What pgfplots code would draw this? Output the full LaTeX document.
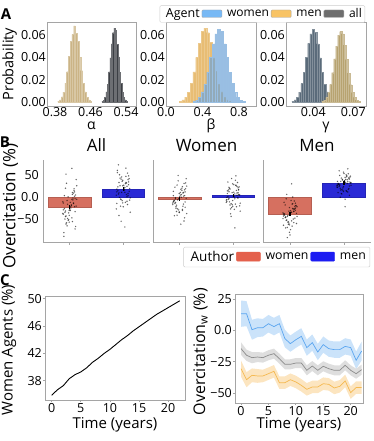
\documentclass[border=0pt]{standalone}
\usepackage{pgfplots}
\pgfplotsset{compat=1.18}
\usepackage{fontspec}
\setmainfont{Open Sans}
\definecolor{spine}{RGB}{165,165,165}
\definecolor{aL}{RGB}{203,180,134}
\definecolor{aR}{RGB}{60,63,68}
\definecolor{bO}{RGB}{228,178,92}
\definecolor{bB}{RGB}{110,163,215}
\definecolor{gL}{RGB}{90,107,122}
\definecolor{gR}{RGB}{183,163,112}
\definecolor{legW}{RGB}{120,185,245}
\definecolor{legM}{RGB}{248,195,100}
\definecolor{legA}{RGB}{110,110,110}
\definecolor{barW}{RGB}{214,112,96}
\definecolor{barM}{RGB}{42,42,214}
\definecolor{legBW}{RGB}{228,96,76}
\definecolor{legBM}{RGB}{28,28,242}
\definecolor{lnB}{RGB}{90,165,240}
\definecolor{bandB}{RGB}{203,227,250}
\definecolor{lnG}{RGB}{140,140,140}
\definecolor{bandG}{RGB}{222,222,222}
\definecolor{lnO}{RGB}{245,185,80}
\definecolor{bandO}{RGB}{252,229,192}
\newcommand{\tk}{\fontsize{12.5}{12.5}\selectfont}
\pgfplotsset{
  base/.style={scale only axis, anchor=south west,
    /pgf/number format/assume math mode=true,
    scaled x ticks=false, scaled y ticks=false,
    tick label style={font=\tk},
    axis line style={spine, line width=0.8pt},
    tick style={spine, line width=0.8pt},
    xticklabel style={inner sep=1pt},
    yticklabel style={inner sep=1pt},
  },
  hist/.style={base, height=84pt, ymin=-0.0035, ymax=0.0715,
    ytick={0,0.02,0.04,0.06}, yticklabels={0.00,0.02,0.04,0.06},
    major tick length=0pt,
    xlabel style={font=\fontsize{14}{14}\selectfont, at={(axis description cs:0.5,-0.28)}, anchor=base, inner sep=0pt}},
  hb/.style={ybar, bar shift=0pt, bar width=#1, line width=0.2pt},
  bax/.style={base, height=82pt, ymin=-102, ymax=84, xmin=-0.5, xmax=1.5,
    axis lines*=left, xtick={0,1}, xticklabels={}, ytick={-50,0,50}, yticklabels={},
    ytick style={draw=none}, tick align=outside, major tick length=3pt,
    title style={font=\fontsize{17}{17}\selectfont, anchor=base, at={(0.5,1)}, yshift=2pt}},
  bar/.style={ybar, bar shift=0pt, bar width=0.8, line width=0.4pt},
  pts/.style={only marks, mark=*, mark size=0.55pt, black, opacity=0.4},
  eb/.style={draw=none, mark=none, error bars/.cd, y dir=both, y explicit, error mark=none,
    error bar style={draw=black, line width=1.1pt}, /pgfplots/.cd},
}
\begin{document}
\begin{tikzpicture}
\useasboundingbox (0pt,0pt) rectangle (374pt,441pt);
% ---------------- Panel A ----------------
\begin{axis}[hist, at={(47pt,335pt)}, width=89pt, xmin=0.362, xmax=0.5625,
  xtick={0.38,0.46,0.54}, xticklabels={0.38,0.46,0.54},
  xlabel={α}, ylabel={Probability},
  ylabel style={font=\fontsize{14.5}{14.5}\selectfont, at={(axis description cs:-0.42,0.5)}, anchor=center}]
\addplot[hb=0.004, fill=aL, draw=aL!75!white] table {
0.388 0.0007
0.392 0.0019
0.396 0.0046
0.400 0.0088
0.404 0.0170
0.408 0.0272
0.412 0.0410
0.416 0.0545
0.420 0.0605
0.424 0.0680
0.428 0.0615
0.432 0.0540
0.436 0.0400
0.440 0.0280
0.444 0.0165
0.448 0.0092
0.452 0.0043
0.456 0.0019
0.460 0.0007
};
\addplot[hb=0.003, fill=aR, draw=aR!75!white] table {
0.487 0.0007
0.490 0.0018
0.493 0.0044
0.496 0.0090
0.499 0.0160
0.502 0.0270
0.505 0.0395
0.508 0.0520
0.511 0.0620
0.514 0.0660
0.517 0.0640
0.520 0.0515
0.523 0.0405
0.526 0.0268
0.529 0.0168
0.532 0.0088
0.535 0.0044
0.538 0.0019
0.541 0.0007
};
\end{axis}
\begin{axis}[hist, at={(166pt,335pt)}, width=90pt, xmin=0, xmax=0.986,
  xtick={0,0.4,0.8}, xticklabels={0.0,0.4,0.8},
  xlabel={β}]
\addplot[hb=0.03, fill=bO, fill opacity=0.85, draw=bO!70!white] table {
0.16 0.0008
0.19 0.0019
0.22 0.0045
0.25 0.0088
0.28 0.0165
0.31 0.0270
0.34 0.0400
0.37 0.0525
0.40 0.0630
0.43 0.0660
0.46 0.0620
0.49 0.0535
0.52 0.0395
0.55 0.0275
0.58 0.0160
0.61 0.0092
0.64 0.0042
0.67 0.0020
0.70 0.0007
};
\addplot[hb=0.03, fill=bB, fill opacity=0.7, draw=bB!70!white] table {
0.31 0.0007
0.34 0.0018
0.37 0.0043
0.40 0.0090
0.43 0.0160
0.46 0.0268
0.49 0.0398
0.52 0.0520
0.55 0.0610
0.58 0.0650
0.61 0.0630
0.64 0.0520
0.67 0.0400
0.70 0.0265
0.73 0.0165
0.76 0.0088
0.79 0.0045
0.82 0.0018
0.85 0.0008
};
\end{axis}
\begin{axis}[hist, at={(286pt,335pt)}, width=80pt, xmin=0.0195, xmax=0.0795,
  xtick={0.04,0.07}, xticklabels={0.04,0.07},
  xlabel={γ},
  legend style={at={(1,1)}, anchor=south east, xshift=-1pt, yshift=-0.5pt,
    font=\fontsize{12}{12}\selectfont, draw=gray!40, rounded corners=1pt,
    inner sep=1pt, legend columns=-1,
    /tikz/every odd column/.append style={column sep=3pt}},
  legend cell align=left]
\addplot[forget plot, hb=0.0017, fill=gL, draw=gL!75!white] table {
0.0247 0.0007
0.0264 0.0019
0.0281 0.0045
0.0298 0.0088
0.0315 0.0165
0.0332 0.0268
0.0349 0.0400
0.0366 0.0525
0.0383 0.0610
0.0400 0.0650
0.0417 0.0625
0.0434 0.0520
0.0451 0.0395
0.0468 0.0265
0.0485 0.0160
0.0502 0.0090
0.0519 0.0043
0.0536 0.0018
0.0553 0.0007
};
\addplot[forget plot, hb=0.0015, fill=gR, draw=gR!75!white] table {
0.0470 0.0007
0.0485 0.0018
0.0500 0.0042
0.0515 0.0085
0.0530 0.0158
0.0545 0.0262
0.0560 0.0385
0.0575 0.0500
0.0590 0.0598
0.0605 0.0630
0.0620 0.0610
0.0635 0.0508
0.0650 0.0380
0.0665 0.0258
0.0680 0.0155
0.0695 0.0085
0.0710 0.0042
0.0725 0.0018
0.0740 0.0007
};
\addlegendimage{empty legend}\addlegendentry{\fontsize{12.5}{12.5}\selectfont Agent}
\addlegendimage{legend image code/.code={\draw[fill=legW, draw=gray!70] (0pt,-3.5pt) rectangle (20pt,4pt);}}\addlegendentry{women}
\addlegendimage{legend image code/.code={\draw[fill=legM, draw=gray!70] (0pt,-3.5pt) rectangle (20pt,4pt);}}\addlegendentry{men}
\addlegendimage{legend image code/.code={\draw[fill=legA, draw=gray!70] (0pt,-3.5pt) rectangle (20pt,4pt);}}\addlegendentry{all}
\end{axis}
% ---------------- Panel B ----------------
\begin{axis}[bax, at={(43pt,199pt)}, width=107pt, title={All},
  yticklabels={−50,0.0,50}, ylabel={Overcitation (\%)},
  ylabel style={font=\fontsize{17}{17}\selectfont, at={(axis description cs:-0.305,0.44)}, anchor=center}]
\addplot[bar, fill=barW, draw=barW!85!black] coordinates {(0,-22)};
\addplot[bar, fill=barM, draw=barM!85!black] coordinates {(1,18)};
\addplot[pts] table {
-0.12 -13.6
0.05 -55.6
-0.03 0.4
0.10 -33.2
-0.08 20
0.02 -24.8
0.13 -5.2
-0.11 -80.8
0.07 8.8
-0.01 -41.6
0.09 -22
-0.06 31.2
0.04 -47.2
-0.13 -10.8
0.11 -66.8
-0.04 -16.4
0.01 -30.4
0.08 14.4
-0.09 -50
0.06 -2.4
-0.02 -36
0.12 39.6
-0.07 -61.2
0.03 -19.2
-0.10 3.2
0.00 -27.6
0.10 -72.4
-0.05 -8
0.05 6
-0.12 -38.8
0.07 -13.6
-0.03 -52.8
0.13 25.6
-0.08 -44.4
0.02 -22
-0.11 -89.2
0.09 11.6
-0.01 -30.4
0.04 -5.2
-0.06 -58.4
0.04 65
-0.07 52
0.03 -17.8
-0.09 -34.6
0.11 4.6
-0.02 -51.4
0.06 -6.6
-0.12 -29
0.08 18.6
-0.05 -65.4
0.12 -20.6
-0.07 -43
0.01 -12.2
-0.10 -26.2
0.05 10.2
-0.04 -48.6
0.10 -3.8
-0.13 -37.4
0.07 -15
-0.01 -57
0.09 1.8
-0.08 -31.8
};
\addplot[pts] table {
0.94 25.5
1.04 -12
0.99 38
1.09 8
0.89 55.5
1.02 15.5
0.92 33
1.13 -34.5
0.97 45.5
1.07 0.5
0.88 18
1.05 65.5
0.95 -4.5
1.10 28
1.00 -22
0.90 23
1.03 10.5
0.93 50.5
1.12 -7
0.98 35.5
1.06 5.5
0.91 73
1.08 -17
1.01 20.5
0.96 40.5
1.11 13
0.87 -27
1.04 30.5
0.94 43
1.09 3
0.99 25.5
1.07 -9.5
0.89 60.5
1.13 -2
1.02 18
0.92 -42
1.10 48
0.97 10.5
1.05 33
0.88 -14.5
1.03 -68
0.96 -55
1.03 21.8
0.91 6.8
1.11 41.8
0.98 -8.3
1.06 31.8
0.88 11.8
1.08 54.3
0.95 -20.8
1.12 19.3
0.93 -0.8
1.01 26.8
0.90 14.3
1.05 46.8
0.96 -5.8
1.10 34.3
0.87 4.3
1.07 24.3
0.99 -13.3
1.09 39.3
0.92 9.3
};
\addplot[eb] coordinates {(0,-22) +- (0,5) (1,18) +- (0,4)};
\end{axis}
\begin{axis}[bax, at={(153pt,199pt)}, width=107pt, title={Women}]
\addplot[bar, fill=barW, draw=barW!85!black] coordinates {(0,-4.5)};
\addplot[bar, fill=barM, draw=barM!85!black] coordinates {(1,4.5)};
\addplot[pts] table {
0.09 3.2
-0.06 -32.8
0.04 15.2
-0.13 -13.6
0.11 32
-0.04 -6.4
0.01 10.4
0.08 -54.4
-0.09 22.4
0.06 -20.8
-0.02 -4
0.12 41.6
-0.07 -25.6
0.03 5.6
-0.10 -42.4
0.00 0.8
0.10 -11.2
-0.05 27.2
0.05 -28
-0.12 12.8
0.07 -16
-0.03 48.8
0.13 -37.6
-0.08 -1.6
0.02 17.6
-0.11 -8.8
0.09 -47.2
-0.01 8
0.04 20
-0.06 -18.4
-0.12 3.2
0.05 -30.4
-0.03 36.8
0.10 -23.2
-0.08 -4
0.02 -61.6
0.13 24.8
-0.11 -11.2
0.07 10.4
-0.01 -35.2
0.03 -0.4
-0.09 -14.8
0.11 18.8
-0.02 -29.2
0.06 9.2
-0.12 -10
0.08 30.8
-0.05 -41.2
0.12 -2.8
-0.07 -22
0.01 4.4
-0.10 -7.6
0.05 23.6
-0.04 -26.8
0.10 11.6
-0.13 -17.2
0.07 2
-0.01 -34
0.09 16.4
-0.08 -12.4
};
\addplot[pts] table {
0.98 10
1.12 -20
0.93 20
1.03 -4
0.90 34
1.00 2
1.10 16
0.95 -38
1.05 26
0.88 -10
1.07 4
0.97 42
1.13 -14
0.92 12
1.02 -28
0.89 8
1.09 -2
0.99 30
1.04 -16
0.94 18
0.88 -6
1.05 48
0.97 -24
1.10 6
0.92 22
1.02 0
1.13 -32
0.89 14
1.07 24
0.99 -8
1.09 10
0.94 -18
1.04 38
0.87 -12
1.11 4
0.96 -44
1.01 28
1.08 -2
0.91 16
1.06 -22
1.03 -70
1.03 7
0.91 -5
1.11 23
0.98 -17
1.06 15
0.88 -1
1.08 33
0.95 -27
1.12 5
0.93 -11
1.01 11
0.90 1
1.05 27
0.96 -15
1.10 17
0.87 -7
1.07 9
0.99 -21
1.09 21
0.92 -3
};
\addplot[eb] coordinates {(0,-4.5) +- (0,4.5) (1,4.5) +- (0,3.5)};
\end{axis}
\begin{axis}[bax, at={(263pt,199pt)}, width=108pt, title={Men},
  legend style={at={(1,0)}, anchor=north east, xshift=-1pt, yshift=-5pt,
    font=\fontsize{12.3}{12.3}\selectfont, draw=gray!40, rounded corners=1pt,
    inner sep=2pt, legend columns=-1,
    /tikz/every odd column/.append style={column sep=3pt}},
  legend cell align=left]
\addplot[forget plot, bar, fill=barW, draw=barW!85!black] coordinates {(0,-39)};
\addplot[forget plot, bar, fill=barM, draw=barM!85!black] coordinates {(1,31)};
\addplot[forget plot, pts] table {
0.07 -32
-0.03 -62
0.13 -22
-0.08 -46
0.02 -8
-0.11 -40
0.09 -26
-0.01 -80
0.04 -16
-0.06 -52
-0.12 -38
0.05 0
-0.03 -56
0.10 -30
-0.08 -70
0.02 -34
0.13 -44
-0.11 -12
0.07 -58
-0.01 -24
0.09 -48
-0.06 6
0.04 -66
-0.13 -36
0.11 -20
-0.04 -42
0.01 -74
0.08 -28
-0.09 -18
0.06 -50
-0.02 -32
0.12 -60
-0.07 -4
0.03 -54
-0.10 -38
0.00 -86
0.10 -14
-0.05 -44
0.05 -26
-0.12 -64
0.03 30
-0.05 -92
0.03 -35
-0.09 -47
0.11 -19
-0.02 -59
0.06 -27
-0.12 -43
0.08 -9
-0.05 -69
0.12 -37
-0.07 -53
0.01 -31
-0.10 -41
0.05 -15
-0.04 -57
0.10 -25
-0.13 -49
0.07 -33
-0.01 -63
0.09 -21
-0.08 -45
};
\addplot[forget plot, pts] table {
0.88 35.5
1.05 13
0.95 43
1.10 25
1.00 53.5
0.90 29.5
1.03 40
0.93 -0.5
1.12 47.5
0.98 20.5
1.06 31
0.91 59.5
1.08 17.5
1.01 37
0.96 7
1.11 34
0.87 26.5
1.04 50.5
0.94 16
1.09 41.5
0.99 23.5
1.07 64
0.89 10
1.13 32.5
1.02 44.5
0.92 28
1.10 4
0.97 38.5
1.05 46
0.88 22
0.94 35.5
1.04 14.5
0.99 56.5
1.09 19
0.89 31
1.02 -5
0.92 49
1.13 26.5
0.97 40
1.07 11.5
1.02 -22
1.03 33.3
0.91 24.3
1.11 45.3
0.98 15.3
1.06 39.3
0.88 27.3
1.08 52.8
0.95 7.8
1.12 31.8
0.93 19.8
1.01 36.3
0.90 28.8
1.05 48.3
0.96 16.8
1.10 40.8
0.87 22.8
1.07 34.8
0.99 12.3
1.09 43.8
0.92 25.8
};
\addplot[forget plot, eb] coordinates {(0,-39) +- (0,5) (1,31) +- (0,4.5)};
\addlegendimage{empty legend}\addlegendentry{\fontsize{13.5}{13.5}\selectfont Author}
\addlegendimage{legend image code/.code={\fill[legBW] (0pt,-4pt) rectangle (24pt,5pt);}}\addlegendentry{women}
\addlegendimage{legend image code/.code={\fill[legBM] (0pt,-4pt) rectangle (24pt,5pt);}}\addlegendentry{men}
\end{axis}
% ---------------- Panel C ----------------
\begin{axis}[base, at={(45pt,41pt)}, width=140pt, height=104pt,
  xmin=-1.15, xmax=22.9, ymin=35.2, ymax=50.4,
  xtick={0,5,10,15,20}, ytick={38,42,46,50},
  xtick pos=bottom, ytick pos=left, tick align=outside, major tick length=2pt,
  xlabel={Time (years)}, ylabel={Women Agents (\%)},
  xlabel style={font=\fontsize{15}{15}\selectfont, at={(axis description cs:0.5,-0.235)}, anchor=center},
  ylabel style={font=\fontsize{15}{15}\selectfont, at={(axis description cs:-0.257,0.48)}, anchor=center}]
\addplot[black, line width=0.9pt] coordinates {
(0,35.9) (1,36.7) (2,37.3) (3,38.3) (4,38.9) (5,39.3) (6,39.9) (7,40.7)
(8,41.3) (9,42.0) (10,42.6) (11,43.3) (12,44.0) (13,44.6) (14,45.3)
(15,45.9) (16,46.5) (17,47.1) (18,47.7) (19,48.2) (20,48.7) (21,49.2) (22,49.7)};
\end{axis}
\begin{axis}[base, at={(235pt,38pt)}, width=128pt, height=109pt,
  xmin=-1.1, xmax=22.25, ymin=-58, ymax=29,
  xtick={0,5,10,15,20}, ytick={-50,-25,0,25}, yticklabels={−50,−25,0.0,25},
  xtick pos=bottom, ytick pos=left, tick align=outside, major tick length=2pt,
  xlabel={Time (years)}, ylabel={Overcitation\textsubscript{w} (\%)},
  xlabel style={font=\fontsize{15}{15}\selectfont, at={(axis description cs:0.5,-0.2)}, anchor=center},
  ylabel style={font=\fontsize{16}{16}\selectfont, at={(axis description cs:-0.27,0.47)}, anchor=center}]
% bands: upper edge t=0..22, then lower edge t=22..0
\addplot[fill=bandB, draw=none] coordinates {
(0,23.8) (1,23.3) (2,8.5) (3,9.6) (4,9.1) (5,12.3) (6,10.0) (7,12.3) (8,0.4) (9,-4.1)
(10,-1.0) (11,1.7) (12,-7.3) (13,-3.3) (14,-10.8) (15,-4.9) (16,-8.1) (17,-8.9) (18,-8.9)
(19,-6.3) (20,-7.3) (21,-16.9) (22,-9.0)
(22,-24.0) (21,-30.9) (20,-20.3) (19,-19.3) (18,-21.9) (17,-21.9) (16,-21.1) (15,-17.9)
(14,-23.8) (13,-16.3) (12,-20.3) (11,-11.3) (10,-14.0) (9,-17.1) (8,-13.6) (7,-1.7)
(6,-4.0) (5,-1.7) (4,-4.9) (3,-5.4) (2,-7.5) (1,3.3) (0,2.8)} -- cycle;
\addplot[fill=bandG, draw=none] coordinates {
(0,-9.6) (1,-15.4) (2,-17.3) (3,-17.3) (4,-17.8) (5,-15.9) (6,-14.6) (7,-18.6) (8,-23.1)
(9,-23.1) (10,-22.1) (11,-22.1) (12,-27.9) (13,-24.5) (14,-27.9) (15,-24.7) (16,-26.6)
(17,-27.9) (18,-27.9) (19,-23.9) (20,-27.9) (21,-30.6) (22,-27.4)
(22,-35.4) (21,-38.6) (20,-35.9) (19,-31.9) (18,-35.9) (17,-35.9) (16,-34.6) (15,-32.7)
(14,-35.9) (13,-32.5) (12,-35.9) (11,-30.1) (10,-30.1) (9,-31.1) (8,-31.1) (7,-26.6)
(6,-22.6) (5,-23.9) (4,-25.8) (3,-25.3) (2,-26.3) (1,-24.4) (0,-19.6)} -- cycle;
\addplot[fill=bandO, draw=none] coordinates {
(0,-24.1) (1,-33.4) (2,-30.4) (3,-30.9) (4,-31.4) (5,-29.6) (6,-27.7) (7,-36.8) (8,-36.8)
(9,-34.4) (10,-36.2) (11,-38.9) (12,-42.1) (13,-40.2) (14,-40.2) (15,-37.6) (16,-38.1)
(17,-41.0) (18,-39.7) (19,-35.4) (20,-44.7) (21,-40.7) (22,-40.7)
(22,-50.7) (21,-50.7) (20,-54.7) (19,-45.4) (18,-49.7) (17,-51.0) (16,-48.1) (15,-47.6)
(14,-50.2) (13,-50.2) (12,-52.1) (11,-48.9) (10,-46.2) (9,-44.4) (8,-46.8) (7,-46.8)
(6,-37.7) (5,-39.6) (4,-41.4) (3,-41.9) (2,-41.4) (1,-45.4) (0,-37.1)} -- cycle;
\addplot[lnB, line width=0.7pt] coordinates {
(0,13.3) (1,13.3) (2,0.5) (3,2.1) (4,2.1) (5,5.3) (6,3.0) (7,5.3) (8,-6.6) (9,-10.6)
(10,-7.5) (11,-4.8) (12,-13.8) (13,-9.8) (14,-17.3) (15,-11.4) (16,-14.6) (17,-15.4)
(18,-15.4) (19,-12.8) (20,-13.8) (21,-23.9) (22,-16.5)};
\addplot[lnG, line width=0.7pt] coordinates {
(0,-14.6) (1,-19.9) (2,-21.8) (3,-21.3) (4,-21.8) (5,-19.9) (6,-18.6) (7,-22.6) (8,-27.1)
(9,-27.1) (10,-26.1) (11,-26.1) (12,-31.9) (13,-28.5) (14,-31.9) (15,-28.7) (16,-30.6)
(17,-31.9) (18,-31.9) (19,-27.9) (20,-31.9) (21,-34.6) (22,-31.4)};
\addplot[lnO, line width=0.7pt] coordinates {
(0,-30.6) (1,-39.4) (2,-35.9) (3,-36.4) (4,-36.4) (5,-34.6) (6,-32.7) (7,-41.8) (8,-41.8)
(9,-39.4) (10,-41.2) (11,-43.9) (12,-47.1) (13,-45.2) (14,-45.2) (15,-42.6) (16,-43.1)
(17,-46.0) (18,-44.7) (19,-40.4) (20,-49.7) (21,-45.7) (22,-45.7)};
\end{axis}
% panel letters
\node[font=\bfseries\fontsize{15}{15}\selectfont] at (6pt,427pt) {A};
\node[font=\bfseries\fontsize{15}{15}\selectfont] at (5pt,299pt) {B};
\node[font=\bfseries\fontsize{15}{15}\selectfont] at (5pt,161pt) {C};
\end{tikzpicture}
\end{document}
